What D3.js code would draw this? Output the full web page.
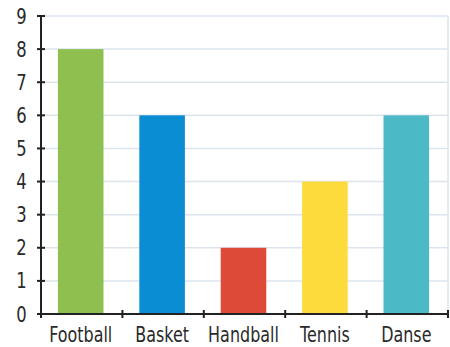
<!DOCTYPE html>
<html>
<head>
<meta charset="utf-8">
<script src="https://cdn.jsdelivr.net/npm/d3@7"></script>
<style>
  body { margin: 0; background: #fff; }
  text { font-family: "DejaVu Sans", sans-serif; fill: #2a2a2a; }
</style>
</head>
<body>
<div class="chart"></div>
<script>
var sports = ["Football", "Basket", "Handball", "Tennis", "Danse"];
var counts = [8, 6, 2, 4, 6];
var colors = ["#8fbf4f", "#0a8dd2", "#de4a38", "#fddb3c", "#4cb9c6"];
var yTicks = [0, 1, 2, 3, 4, 5, 6, 7, 8, 9];

var svg = d3.select(".chart").append("svg")
	.attr("width", 450)
	.attr("height", 347);

var mLeft = 41, mRight = 448, mTop = 16, mBottom = 314;

var x = d3.scaleBand()
	.domain(sports)
	.range([mLeft, mRight])
	.padding(0);

var y = d3.scaleLinear()
	.domain([0, 9])
	.range([mBottom, mTop]);

// grid
svg.append("g")
	.selectAll("line")
	.data(yTicks.slice(1))
	.enter().append("line")
	.attr("x1", mLeft)
	.attr("x2", mRight)
	.attr("y1", function(d){ return y(d); })
	.attr("y2", function(d){ return y(d); })
	.style("stroke", "#dde4ee")
	.style("stroke-width", 1.5);

svg.append("line")
	.attr("x1", mRight).attr("x2", mRight)
	.attr("y1", mTop).attr("y2", mBottom)
	.style("stroke", "#dde4ee")
	.style("stroke-width", 1.5);

// bars
var barW = x.bandwidth() * 0.56;
svg.append("g")
	.selectAll("rect")
	.data(counts)
	.enter().append("rect")
	.attr("x", function(d, i){ return x(sports[i]) + x.bandwidth() / 2 - barW / 2 - 1; })
	.attr("y", function(d){ return y(d); })
	.attr("width", barW)
	.attr("height", function(d){ return mBottom - y(d); })
	.style("fill", function(d, i){ return colors[i]; });

// y axis
var yAxis = svg.append("g");
yAxis.append("line")
	.attr("x1", mLeft).attr("x2", mLeft)
	.attr("y1", mTop).attr("y2", mBottom)
	.style("stroke", "#222").style("stroke-width", 2);

yAxis.selectAll("line.tick")
	.data(yTicks)
	.enter().append("line")
	.attr("class", "tick")
	.attr("x1", mLeft - 4).attr("x2", mLeft + 4)
	.attr("y1", function(d){ return y(d); })
	.attr("y2", function(d){ return y(d); })
	.style("stroke", "#222").style("stroke-width", 2);

yAxis.selectAll("text")
	.data(yTicks)
	.enter().append("text")
	.attr("transform", function(d){ return "translate(21.5," + (y(d) + 7.5) + ") scale(0.8,1)"; })
	.attr("text-anchor", "middle")
	.attr("font-size", "20.5px")
	.text(function(d){ return d; });

// x axis
var xAxis = svg.append("g");
xAxis.append("line")
	.attr("x1", mLeft - 4).attr("x2", mRight)
	.attr("y1", mBottom).attr("y2", mBottom)
	.style("stroke", "#222").style("stroke-width", 2);

var edges = sports.map(function(s){ return x(s); }).concat([mRight]);
xAxis.selectAll("line.tick")
	.data(edges)
	.enter().append("line")
	.attr("class", "tick")
	.attr("x1", function(d){ return d; })
	.attr("x2", function(d){ return d; })
	.attr("y1", mBottom - 4).attr("y2", mBottom + 4)
	.style("stroke", "#222").style("stroke-width", 2);

xAxis.selectAll("text")
	.data(sports)
	.enter().append("text")
	.attr("transform", function(d){ return "translate(" + (x(d) + x.bandwidth() / 2 - 1) + ",342) scale(0.76,1)"; })
	.attr("text-anchor", "middle")
	.attr("font-size", "21px")
	.text(function(d){ return d; });
</script>
</body>
</html>
